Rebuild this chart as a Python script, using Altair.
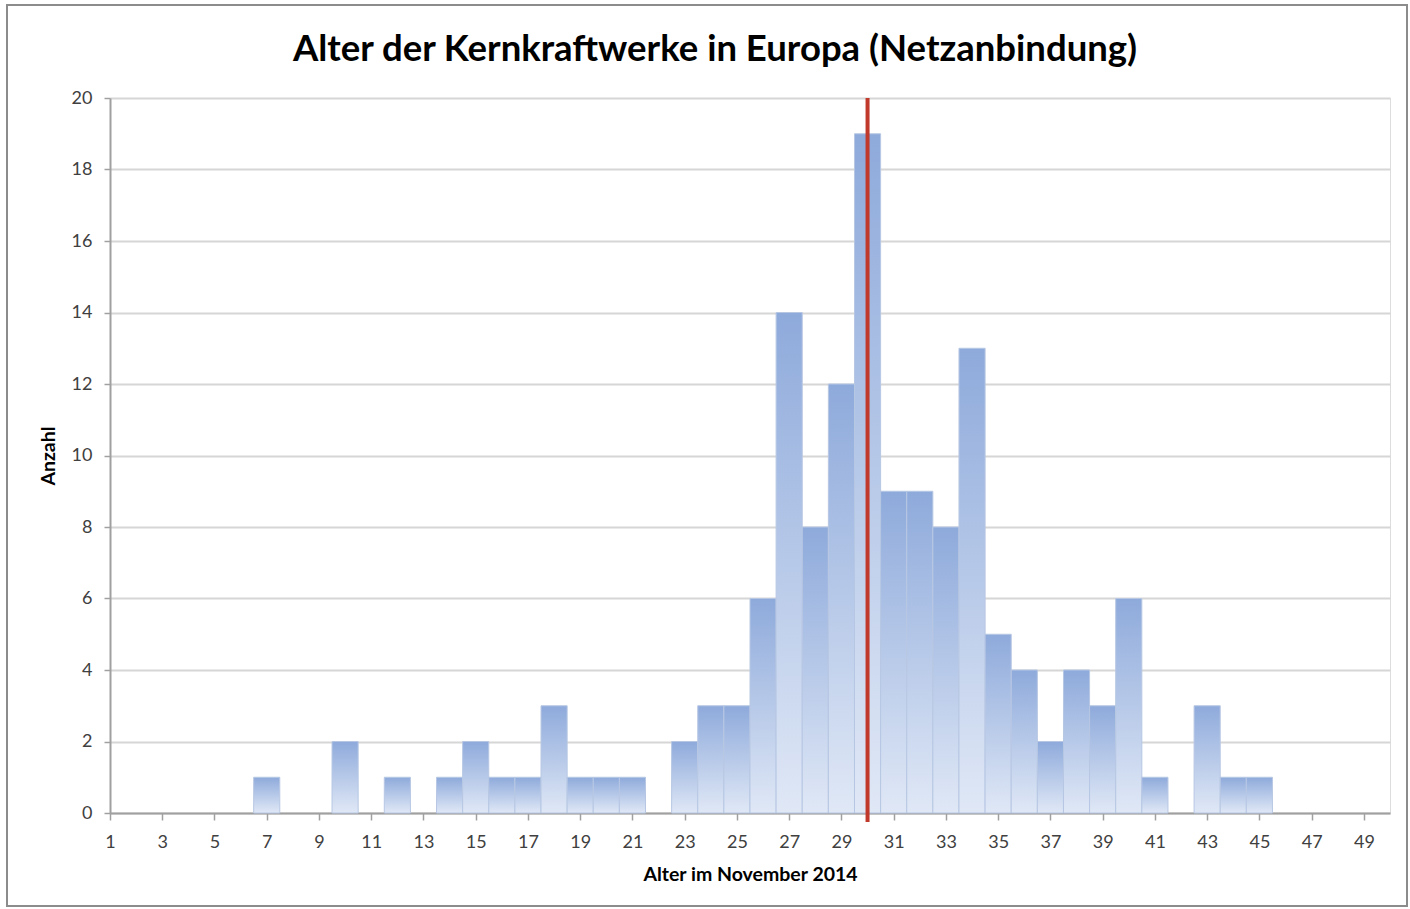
import altair as alt
import pandas as pd

ages = list(range(1, 50))
counts = [0, 0, 0, 0, 0, 0, 1, 0, 0, 2,
          0, 1, 0, 1, 2, 1, 1, 3, 1, 1,
          1, 0, 2, 3, 3, 6, 14, 8, 12, 19,
          9, 9, 8, 13, 5, 4, 2, 4, 3, 6,
          1, 0, 3, 1, 1, 0, 0, 0, 0]
marker_age = [30]
x_ticks = list(range(1, 51))
y_ticks = list(range(0, 21))

df = pd.DataFrame({"age": ages, "count": counts})
df = df[df["count"] > 0].copy()
df["x0"] = df["age"] - 0.5
df["x1"] = df["age"] + 0.5

FONT = "Lato"

xscale = alt.Scale(domain=[1, 50], nice=False, zero=False)
yscale = alt.Scale(domain=[0, 20], nice=False)

gradient = alt.Gradient(
    gradient="linear",
    stops=[alt.GradientStop(color="#8eaadb", offset=0),
           alt.GradientStop(color="#e0e8f6", offset=1)],
    x1=0, x2=0, y1=0, y2=1,
)

bars = alt.Chart(df).mark_rect(
    fill=gradient, stroke="#b7c7e3", strokeWidth=1
).encode(
    x=alt.X("x0:Q", scale=xscale, title="Alter im November 2014",
            axis=alt.Axis(values=x_ticks, grid=False, labelFlush=False,
                          labelExpr="datum.value % 2 == 1 ? datum.label : ''",
                          tickSize=7, tickColor="#a0a0a0", tickWidth=1.5,
                          domainColor="#a0a0a0", domainWidth=2,
                          labelPadding=13, titlePadding=14,
                          labelFontSize=18, labelColor="#404040", labelFont=FONT,
                          titleFontSize=19.5, titleFont=FONT, titleFontWeight="bold",
                          titleColor="#000000")),
    x2="x1:Q",
    y=alt.Y("count:Q", scale=yscale, title="Anzahl",
            axis=alt.Axis(values=y_ticks, labelFlush=False,
                          labelExpr="datum.value % 2 == 0 ? datum.label : ''",
                          tickColor={"condition": {"test": "datum.value % 2 == 0", "value": "#a0a0a0"},
                                     "value": "transparent"},
                          tickSize=6, tickWidth=1.5,
                          grid=True, gridColor="#d6d6d6", gridWidth=2,
                          domainColor="#a0a0a0", domainWidth=2,
                          labelPadding=12, titlePadding=13,
                          labelFontSize=18, labelColor="#404040", labelFont=FONT,
                          titleFontSize=19.5, titleFont=FONT, titleFontWeight="bold",
                          titleColor="#000000")),
    y2=alt.datum(0),
)

marker = alt.Chart(pd.DataFrame({"age": marker_age})).mark_rule(
    color="#c0392b", strokeWidth=4
).encode(
    x=alt.X("age:Q", scale=xscale),
    y=alt.datum(20, scale=yscale),
    y2=alt.datum(-0.25),
)

frame = alt.Chart(pd.DataFrame({"k": [0]})).mark_rect(
    fillOpacity=0, stroke="#8c8c8c", strokeWidth=2
).encode(
    x=alt.value(-103), x2=alt.value(1297),
    y=alt.value(-93), y2=alt.value(808),
)

chart = alt.layer(frame, bars, marker).properties(
    width=1280, height=715,
    title=alt.TitleParams("Alter der Kernkraftwerke in Europa (Netzanbindung)",
                          font=FONT, fontSize=36.5, fontWeight="bold", color="#000000",
                          anchor="middle", dx=-35, offset=-64),
    autosize=alt.AutoSizeParams(type="none"),
    padding={"left": 110, "top": 98, "right": 20, "bottom": 96},
).configure_view(stroke=None).configure(background="white")

chart.save("out.html", embed_options={"renderer": "svg", "actions": False})
